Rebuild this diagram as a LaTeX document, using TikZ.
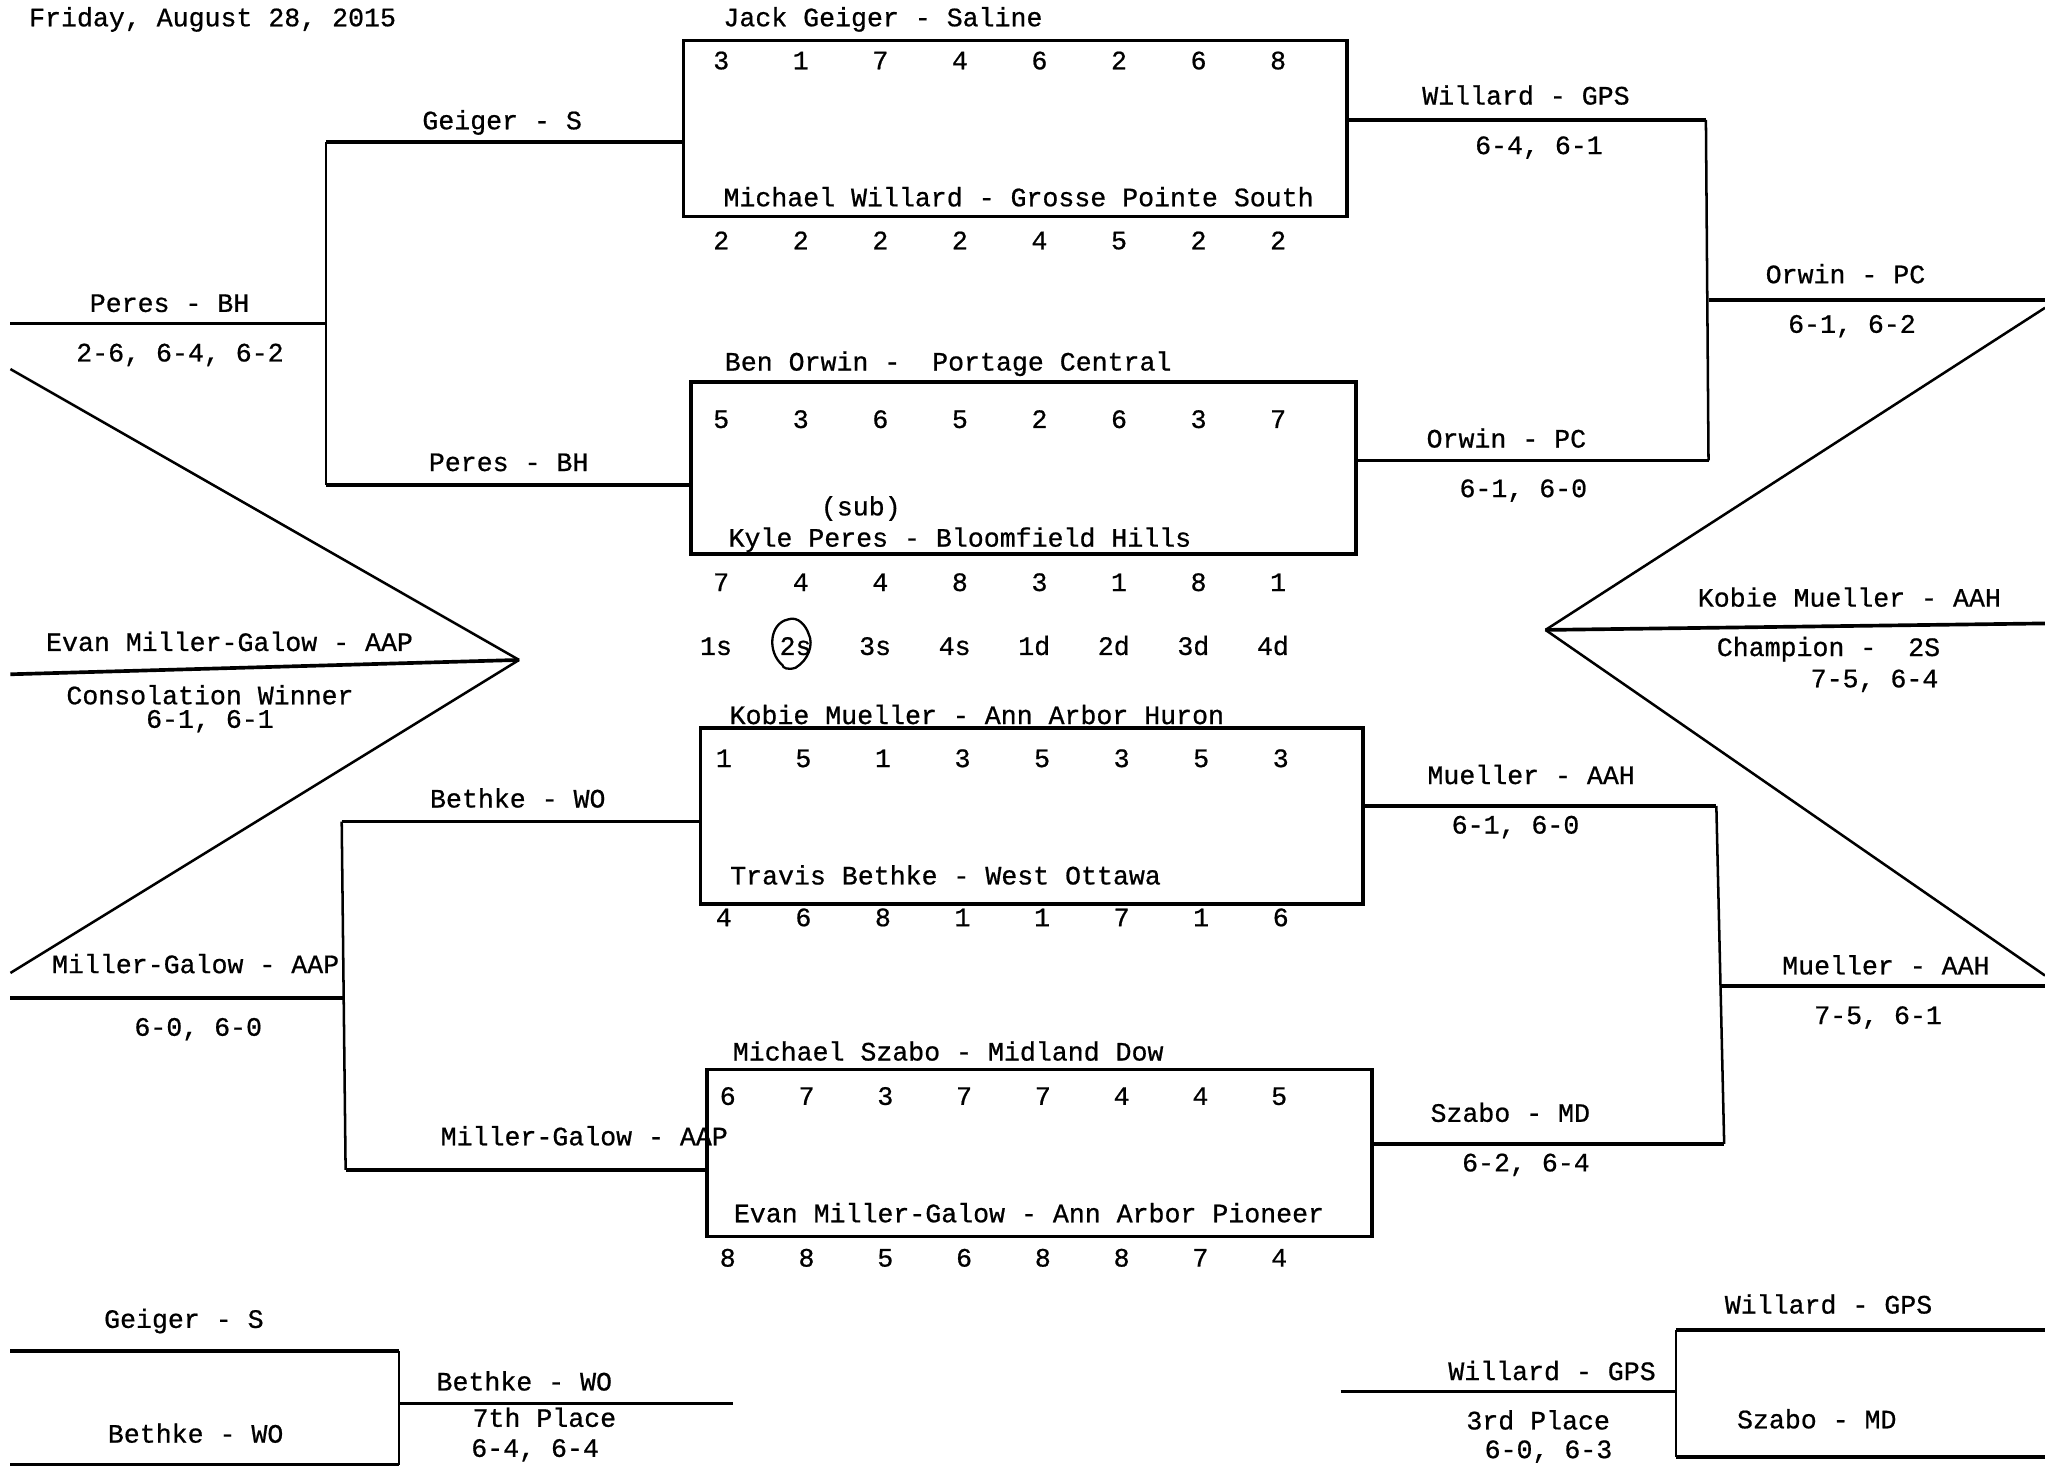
\documentclass[tikz,border=0pt]{standalone}
\usepackage{fontspec}
\setmonofont{Liberation Mono}[FakeBold=0.7]
\begin{document}
\begin{tikzpicture}[x=0.02cm,y=-0.02cm,
  every node/.style={font=\ttfamily\fontsize{11.6}{13}\selectfont, inner sep=0pt, text height=0.8em, text depth=0.1em},
  nat/.style={text height=, text depth=},
  ln/.style={line width=1.6pt},
  vl/.style={line width=1.1pt},
  bx/.style={draw, rectangle, line width=1.6pt, inner sep=0pt}]
\useasboundingbox (0,0) rectangle (1568,1125);

\node[anchor=west] (date) at (22,14) {Friday, August 28, 2015};

% boxes
\node[bx, minimum width=10.18cm, minimum height=2.70cm] (b1) at (778.5,98.5) {};
\node[bx, minimum width=10.20cm, minimum height=2.64cm] (b2) at (785,359) {};
\node[bx, minimum width=10.16cm, minimum height=2.70cm] (b3) at (791,625.5) {};
\node[bx, minimum width=10.20cm, minimum height=2.56cm] (b4) at (797,884) {};

% box names
\node (n1a) at (677,14) {Jack Geiger - Saline};
\node (n1b) at (781,152) {Michael Willard - Grosse Pointe South};
\node (n2a) at (727,278) {Ben Orwin -~ Portage Central};
\node (sub) at (660,389) {(sub)};
\node (n2b) at (736,413) {Kyle Peres - Bloomfield Hills};
\node (n3a) at (749,549) {Kobie Mueller - Ann Arbor Huron};
\node (n3b) at (725,672) {Travis Bethke - West Ottawa};
\node (n4a) at (727,807) {Michael Szabo - Midland Dow};
\node (n4b) at (789,931) {Evan Miller-Galow - Ann Arbor Pioneer};

% number rows
\foreach \v [count=\i] in {3,1,7,4,6,2,6,8} \node (r1a\i) at ({553+61*(\i-1)},47) {\v};
\foreach \v [count=\i] in {2,2,2,2,4,5,2,2} \node (r1b\i) at ({553+61*(\i-1)},185) {\v};
\foreach \v [count=\i] in {5,3,6,5,2,6,3,7} \node (r2a\i) at ({553+61*(\i-1)},322) {\v};
\foreach \v [count=\i] in {7,4,4,8,3,1,8,1} \node (r2b\i) at ({553+61*(\i-1)},447) {\v};
\foreach \v [count=\i] in {1s,2s,3s,4s,1d,2d,3d,4d} \node (pos\i) at ({549+61*(\i-1)},496) {\v};
\foreach \v [count=\i] in {1,5,1,3,5,3,5,3} \node (r3a\i) at ({555+61*(\i-1)},582) {\v};
\foreach \v [count=\i] in {4,6,8,1,1,7,1,6} \node (r3b\i) at ({555+61*(\i-1)},704) {\v};
\foreach \v [count=\i] in {6,7,3,7,7,4,4,5} \node (r4a\i) at ({558+60.4*(\i-1)},841) {\v};
\foreach \v [count=\i] in {8,8,5,6,8,8,7,4} \node (r4b\i) at ({558+60.4*(\i-1)},965) {\v};

% hand-drawn circle round 2s
\draw[line width=1pt] (600,510) .. controls (588,500) and (590,478) .. (604,475)
  .. controls (612,472) and (618,480) .. (620,486) .. controls (624,494) and (620,506) .. (610,512)
  .. controls (604,514) and (600,512) .. (600,510);

% ---- top-left bracket
\coordinate (A1) at (250,109);
\coordinate (A2) at (250,372);
\coordinate (W1) at (250,248);
\coordinate (W1l) at (8,248);
\draw[ln] (A1) -- (b1.west |- A1);
\draw[ln] (A2) -- (b2.west |- A2);
\draw[vl] (A1) -- (A2);
\draw[ln] (W1l) -- (W1);
\node (tA1) at (385,93) {Geiger - S};
\node (tA2) at (390,355) {Peres - BH};
\node (tW1) at (130,233) {Peres - BH};
\node (sW1) at (138,271) {2-6, 6-4, 6-2};

% ---- top-right bracket
\coordinate (R1) at (1308,92);
\coordinate (R2) at (1310,353);
\coordinate (S1) at (1310,230);
\coordinate (S1r) at (1568,230);
\draw[ln] (b1.east |- R1) -- (R1);
\draw[ln] (b2.east |- R2) -- (R2);
\draw[vl] (R1) -- (R2);
\draw[ln] (S1) -- (S1r);
\node (tR1) at (1170,74) {Willard - GPS};
\node (sR1) at (1180,112) {6-4, 6-1};
\node (tR2) at (1155,337) {Orwin - PC};
\node (sR2) at (1168,375) {6-1, 6-0};
\node (tS1) at (1415,211) {Orwin - PC};
\node (sS1) at (1420,249) {6-1, 6-2};

% ---- champion
\coordinate (V) at (1185,483);
\coordinate (Vu) at (1568,236);
\coordinate (Vm) at (1568,478);
\coordinate (Vd) at (1568,748);
\draw[vl] (V) -- (Vu);
\draw[ln] (V) -- (Vm);
\draw[vl] (V) -- (Vd);
\node (tV) at (1418,459) {Kobie Mueller - AAH};
\node[nat, anchor=base west] (cV) at (1316,503) {Champion -~ 2S};
\node[nat, anchor=base west] (sV) at (1388,527) {7-5, 6-4};

% ---- bottom-right bracket
\coordinate (R3) at (1316,618);
\coordinate (R4) at (1322,877);
\coordinate (S2) at (1320,756);
\coordinate (S2r) at (1568,756);
\draw[ln] (b3.east |- R3) -- (R3);
\draw[ln] (b4.east |- R4) -- (R4);
\draw[vl] (R3) -- (R4);
\draw[ln] (S2) -- (S2r);
\node (tR3) at (1174,595) {Mueller - AAH};
\node (sR3) at (1162,633) {6-1, 6-0};
\node (tR4) at (1158,854) {Szabo - MD};
\node (sR4) at (1170,892) {6-2, 6-4};
\node (tS2) at (1446,741) {Mueller - AAH};
\node (sS2) at (1440,779) {7-5, 6-1};

% ---- consolation
\coordinate (C) at (398,506);
\coordinate (Cu) at (8,283);
\coordinate (Cm) at (8,517);
\coordinate (Cd) at (8,746);
\draw[vl] (C) -- (Cu);
\draw[ln] (C) -- (Cm);
\draw[vl] (C) -- (Cd);
\node (tC) at (176,493) {Evan Miller-Galow - AAP};
\node[nat, anchor=base] (cC) at (161,540) {Consolation Winner};
\node[nat, anchor=base] (sC) at (161,558) {6-1, 6-1};

% ---- bottom-left bracket
\coordinate (L3) at (262,630);
\coordinate (L4) at (265,897);
\coordinate (W2) at (264,765);
\coordinate (W2l) at (8,765);
\draw[ln] (L3) -- (b3.west |- L3);
\draw[ln] (L4) -- (b4.west |- L4);
\draw[vl] (L3) -- (L4);
\draw[ln] (W2l) -- (W2);
\node (tL3) at (397,613) {Bethke - WO};
\node (tL4) at (448,872) {Miller-Galow - AAP};
\node (tW2) at (150,740) {Miller-Galow - AAP};
\node (sW2) at (152,788) {6-0, 6-0};

% ---- 7th place
\coordinate (P1) at (8,1036);
\coordinate (P2) at (306,1036);
\coordinate (P3) at (306,1123);
\coordinate (P4) at (8,1123);
\coordinate (P5) at (306,1076);
\coordinate (P6) at (562,1076);
\draw[ln] (P1) -- (P2);
\draw[vl] (P2) -- (P3);
\draw[ln] (P4) -- (P3);
\draw[ln] (P5) -- (P6);
\node (t7a) at (141,1012) {Geiger - S};
\node (t7b) at (150,1100) {Bethke - WO};
\node (t7w) at (402,1060) {Bethke - WO};
\node[nat, anchor=base west] (c7) at (362,1094) {7th Place};
\node[nat, anchor=base west] (s7) at (361,1117) {6-4, 6-4};

% ---- 3rd place
\coordinate (Q1) at (1285,1020);
\coordinate (Q1r) at (1568,1020);
\coordinate (Q2) at (1285,1117);
\coordinate (Q2r) at (1568,1117);
\coordinate (Q3) at (1028,1067);
\coordinate (Q4) at (1285,1067);
\draw[ln] (Q1) -- (Q1r);
\draw[vl] (Q1) -- (Q2);
\draw[ln] (Q2) -- (Q2r);
\draw[ln] (Q3) -- (Q4);
\node (t3a) at (1402,1001) {Willard - GPS};
\node (t3b) at (1393,1089) {Szabo - MD};
\node (t3w) at (1190,1052) {Willard - GPS};
\node[nat, anchor=base west] (c3) at (1124,1096) {3rd Place};
\node[nat, anchor=base west] (s3) at (1138,1118) {6-0, 6-3};
\end{tikzpicture}
\end{document}
